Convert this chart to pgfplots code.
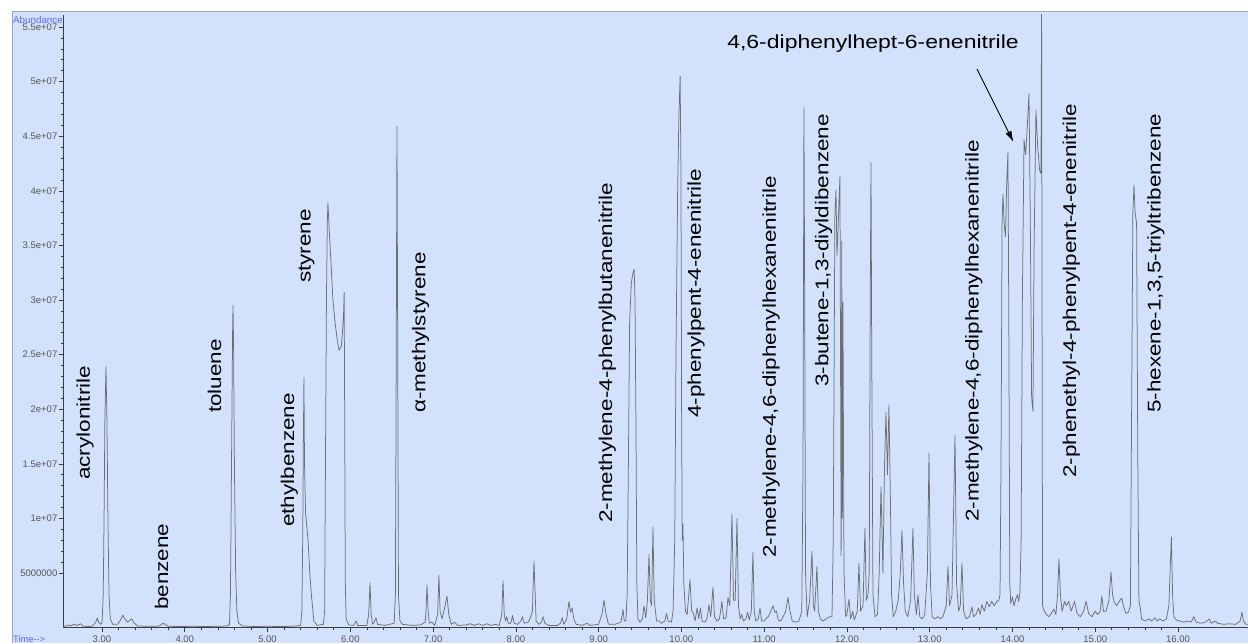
\documentclass[border=0pt]{standalone}
\usepackage{fontspec}
\setmainfont{Liberation Sans}
\usepackage{pgfplots}
\pgfplotsset{compat=1.18}
\usetikzlibrary{arrows.meta}
\definecolor{bgblue}{RGB}{210,226,252}
\definecolor{bordergray}{RGB}{165,165,165}
\definecolor{tracegray}{RGB}{110,110,116}
\definecolor{axisgray}{RGB}{60,60,60}
\definecolor{tickgray}{RGB}{85,85,85}
\definecolor{abblue}{RGB}{100,100,250}
\begin{document}
\begin{tikzpicture}[lbl/.style={rotate=90, anchor=west, inner sep=0pt, yscale=0.82, font=\fontsize{22.5}{24}\selectfont, text=black}]
\path[use as bounding box] (0pt,0pt) rectangle (1248pt,643pt);
\fill[white] (0pt,0pt) rectangle (1248pt,643pt);
\fill[bgblue] (12pt,0pt) rectangle (1248pt,631pt);
\draw[bordergray, line width=1pt] (12pt,0pt) -- (12pt,631pt) -- (1248pt,631pt);
\begin{axis}[
  at={(63pt,15.4pt)}, anchor=south west, scale only axis,
  width=1185pt, height=612.6pt,
  xmin=2.529, xmax=16.846, ymin=0, ymax=56.1,
  axis x line*=bottom, axis y line*=left,
  axis line style={axisgray, line width=0.8pt},
  xtick={3,4,5,6,7,8,9,10,11,12,13,14,15,16},
  xticklabels={3.00,4.00,5.00,6.00,7.00,8.00,9.00,10.00,11.00,12.00,13.00,14.00,15.00,16.00},
  minor x tick num=4,
  ytick={5,10,15,20,25,30,35,40,45,50,55},
  yticklabels={5000000,1e+07,1.5e+07,2e+07,2.5e+07,3e+07,3.5e+07,4e+07,4.5e+07,5e+07,5.5e+07},
  minor y tick num=4,
  tick align=outside, major tick length=4pt, minor tick length=2.5pt,
  tick style={axisgray, line width=0.6pt},
  every tick label/.append style={font=\fontsize{9.5}{10}\selectfont, text=tickgray},
  xticklabel shift=0.8pt,
  yticklabel style={inner sep=1.5pt},
  clip mode=individual,
  /pgf/number format/assume math mode=true,
]
\addplot[tracegray, line width=0.75pt, line join=round] coordinates {
(2.529,0.1)(2.56,0.12)(2.59,0.25)(2.62,0.15)(2.66,0.3)(2.70,0.2)(2.74,0.35)(2.77,0.15)(2.82,0.1)(2.88,0.12)
(2.925,0.5)(2.943,0.88)(2.96,0.5)(2.985,0.3)(3.00,0.4)(3.015,3)(3.025,10)(3.035,19)(3.048,23.9)(3.06,19)
(3.072,10)(3.085,3)(3.10,0.8)(3.13,0.3)(3.19,0.3)(3.225,0.7)(3.25,1.15)(3.275,0.8)(3.31,0.5)(3.335,0.65)
(3.359,0.8)(3.385,0.45)(3.43,0.15)(3.55,0.12)(3.68,0.12)(3.72,0.3)(3.74,0.42)(3.76,0.3)(3.80,0.12)(3.95,0.1)
(4.10,0.12)(4.25,0.1)(4.40,0.12)(4.52,0.15)(4.54,0.3)(4.552,3)(4.565,15)(4.578,27)(4.583,29.5)(4.59,26)
(4.60,15)(4.615,5)(4.63,1.5)(4.65,0.4)(4.70,0.15)(4.85,0.1)(5.00,0.12)(5.15,0.1)(5.30,0.12)(5.40,0.2)
(5.415,1.5)(5.425,8)(5.433,17)(5.44,22.9)(5.447,15)(5.46,10.5)(5.49,8)(5.51,5)(5.53,3)(5.56,0.6)
(5.60,0.2)(5.675,0.3)(5.69,1.5)(5.70,15)(5.712,30)(5.722,37)(5.73,38.9)(5.745,36.5)(5.77,33)(5.79,30)
(5.815,28)(5.84,26.5)(5.863,25.4)(5.89,25.7)(5.905,27)(5.912,27.9)(5.92,29)(5.926,30.7)(5.932,20)(5.94,4)
(5.95,0.8)(5.98,0.25)(6.04,0.2)(6.06,0.45)(6.075,0.6)(6.09,0.2)(6.20,0.2)(6.222,1.2)(6.238,4.1)(6.252,1.2)
(6.27,0.3)(6.29,0.5)(6.31,0.9)(6.33,0.3)(6.42,0.2)(6.53,0.4)(6.545,3)(6.555,25)(6.564,45.9)(6.572,28)
(6.582,3)(6.60,0.6)(6.63,0.3)(6.75,0.2)(6.85,0.25)(6.905,0.5)(6.915,1.5)(6.927,3.9)(6.94,1.5)(6.955,0.4)
(6.985,0.5)(7.02,0.2)(7.055,1.2)(7.071,4.8)(7.085,1.5)(7.11,0.8)(7.145,2)(7.168,2.9)(7.19,1.2)(7.22,0.3)
(7.26,0.5)(7.30,0.2)(7.40,0.25)(7.45,0.35)(7.50,0.2)(7.55,0.35)(7.60,0.2)(7.65,0.35)(7.70,0.2)(7.75,0.3)
(7.80,0.2)(7.83,1.2)(7.845,4.3)(7.86,1.2)(7.875,0.6)(7.89,1.0)(7.91,0.4)(7.94,0.4)(7.96,1.1)(7.98,0.4)
(8.02,0.3)(8.06,0.6)(8.08,1.0)(8.10,0.4)(8.15,0.5)(8.175,0.9)(8.20,1.5)(8.219,6.05)(8.232,3.5)(8.245,0.6)
(8.28,0.3)(8.31,0.5)(8.33,1.0)(8.35,0.4)(8.40,0.2)(8.50,0.2)(8.54,0.4)(8.56,0.9)(8.58,0.3)(8.615,0.8)
(8.642,2.4)(8.66,1.4)(8.68,1.8)(8.70,0.8)(8.73,0.3)(8.80,0.2)(8.86,0.4)(8.90,0.2)(9.00,0.3)(9.04,1.2)
(9.065,2.5)(9.09,1.2)(9.12,0.3)(9.20,0.3)(9.27,0.5)(9.295,1.65)(9.31,0.6)(9.33,0.6)(9.345,3)(9.36,15)
(9.375,28)(9.395,31.5)(9.415,32.5)(9.43,32.8)(9.44,30)(9.452,18)(9.462,4)(9.475,0.8)(9.50,0.5)(9.53,0.8)
(9.548,2.0)(9.57,0.9)(9.59,2.5)(9.609,6.7)(9.625,2.5)(9.64,2)(9.657,9.2)(9.672,2.5)(9.70,0.6)(9.73,0.6)
(9.76,0.4)(9.80,0.6)(9.82,1.3)(9.84,0.6)(9.88,0.5)(9.90,1.5)(9.92,8)(9.935,25)(9.955,40)(9.97,46.7)
(9.985,50.5)(9.995,42)(10.003,20)(10.01,8)(10.019,9.5)(10.03,4)(10.05,1.5)(10.07,1.2)(10.104,4.4)(10.125,1.5)
(10.145,1.3)(10.165,0.6)(10.19,1.8)(10.21,0.8)(10.23,1.8)(10.25,0.6)(10.285,0.5)(10.31,0.8)(10.334,2.1)(10.355,1.0)
(10.382,3.7)(10.40,1.0)(10.43,0.6)(10.46,0.8)(10.49,2.4)(10.51,0.8)(10.54,0.9)(10.563,2.75)(10.585,2.0)(10.611,10.4)
(10.63,2.5)(10.65,2.5)(10.672,10.0)(10.69,2.0)(10.71,0.8)(10.73,1.2)(10.75,0.6)(10.78,0.8)(10.80,1.4)(10.82,0.7)
(10.845,1.5)(10.865,6.9)(10.88,1.5)(10.90,0.6)(10.93,0.8)(10.95,1.8)(10.97,0.6)(11.00,0.6)(11.03,0.9)(11.05,1.0)
(11.08,1.5)(11.107,2.0)(11.13,1.4)(11.15,1.5)(11.17,0.7)(11.20,0.6)(11.23,1.0)(11.26,1.5)(11.288,2.75)(11.31,1.6)
(11.34,0.6)(11.38,0.5)(11.42,0.6)(11.455,1.5)(11.47,15)(11.481,47.6)(11.49,30)(11.50,5)(11.52,1.0)(11.55,2.5)
(11.578,7.0)(11.595,2.0)(11.61,1.5)(11.638,5.6)(11.655,1.5)(11.68,0.8)(11.71,0.6)(11.75,0.8)(11.79,1.0)(11.82,1.0)
(11.835,8)(11.855,38)(11.868,40.1)(11.88,34)(11.895,37)(11.916,41.3)(11.925,20)(11.93,6.6)(11.938,35.4)(11.945,10)
(11.952,29.8)(11.965,5)(11.985,1.0)(12.00,1.2)(12.025,2.6)(12.045,0.8)(12.07,1.5)(12.09,0.7)(12.125,1.5)(12.146,5.9)
(12.165,1.5)(12.195,2)(12.218,9.1)(12.235,2.5)(12.255,3)(12.27,5)(12.282,30)(12.291,42.6)(12.30,25)(12.315,3)
(12.34,1.0)(12.37,1.2)(12.39,5)(12.412,12.9)(12.435,5)(12.455,15)(12.472,19.7)(12.49,14)(12.508,20.4)(12.525,12)
(12.54,3)(12.56,1.0)(12.59,1.5)(12.62,2.5)(12.645,5)(12.665,8.9)(12.685,4)(12.705,1.5)(12.735,1.0)(12.77,2.5)
(12.798,9.1)(12.815,3)(12.84,1.2)(12.859,3.0)(12.88,1.0)(12.91,0.8)(12.94,1.2)(12.972,5)(12.992,16.0)(13.01,4)
(13.03,1.0)(13.06,0.8)(13.10,1.0)(13.13,0.8)(13.16,1.0)(13.20,2)(13.221,5.6)(13.24,2)(13.27,3)(13.306,17.6)
(13.325,4)(13.35,1.5)(13.37,2)(13.39,5.9)(13.41,1.5)(13.44,0.8)(13.48,1.0)(13.51,1.9)(13.53,1.0)(13.56,1.2)
(13.59,1.8)(13.61,1.2)(13.63,2.1)(13.66,1.5)(13.69,2.4)(13.72,1.9)(13.75,2.4)(13.78,2.0)(13.81,2.4)(13.835,2.5)
(13.85,3)(13.862,15)(13.875,37)(13.886,39.7)(13.90,37)(13.915,35.8)(13.932,41)(13.946,43.5)(13.958,25)(13.968,4)
(13.98,2.2)(14.00,2.8)(14.02,2.0)(14.04,2.6)(14.06,3.0)(14.075,2.4)(14.09,3.2)(14.105,8)(14.12,30)(14.14,44.7)
(14.16,43.3)(14.18,46)(14.20,48.9)(14.215,38)(14.232,21)(14.248,19.8)(14.262,35)(14.284,47.4)(14.305,44)(14.33,41.8)
(14.345,41.6)(14.352,57)(14.364,2.0)(14.38,1.6)(14.41,1.2)(14.44,1.0)(14.47,1.3)(14.50,1.7)(14.525,1.2)(14.545,3)
(14.562,6.3)(14.58,3)(14.60,1.5)(14.63,2.4)(14.65,2.0)(14.68,2.4)(14.71,1.5)(14.75,2.4)(14.78,1.3)(14.82,1.0)
(14.86,1.5)(14.89,2.4)(14.92,1.3)(14.96,1.0)(15.00,1.5)(15.03,1.2)(15.06,1.5)(15.08,2.9)(15.10,1.5)(15.13,1.5)
(15.165,2.5)(15.19,5.1)(15.21,3)(15.23,2.3)(15.26,2.0)(15.29,2.4)(15.32,2.7)(15.34,2.0)(15.37,1.3)(15.40,1.4)
(15.425,2)(15.44,20)(15.455,38)(15.468,40.5)(15.482,38)(15.50,37)(15.515,15)(15.528,2.5)(15.545,1.8)(15.56,0.8)
(15.60,0.6)(15.65,0.8)(15.68,0.6)(15.72,0.9)(15.75,0.6)(15.78,0.8)(15.82,0.6)(15.86,0.8)(15.89,2)(15.92,8.3)
(15.935,3)(15.95,1.0)(15.98,0.7)(16.02,0.6)(16.07,0.5)(16.12,0.6)(16.16,0.5)(16.19,1.0)(16.22,0.5)(16.28,0.4)
(16.33,0.5)(16.38,0.8)(16.40,0.4)(16.45,0.6)(16.48,0.4)(16.55,0.3)(16.62,0.35)(16.70,0.3)(16.75,0.6)(16.773,1.4)
(16.79,0.6)(16.82,0.3)(16.846,0.3)
};
\node[lbl] at (axis cs:2.795,13.52) {acrylonitrile};
\node[lbl] at (axis cs:3.719,1.61) {benzene};
\node[lbl] at (axis cs:4.359,19.65) {toluene};
\node[lbl] at (axis cs:5.265,9.21) {ethylbenzene};
\node[lbl] at (axis cs:5.471,31.56) {styrene};
\node[lbl] at (axis cs:6.848,19.65) {α-methylstyrene};
\node[lbl] at (axis cs:9.107,9.58) {2-methylene-4-phenylbutanenitrile};
\node[lbl] at (axis cs:10.177,19.19) {4-phenylpent-4-enenitrile};
\node[lbl] at (axis cs:11.083,6.37) {2-methylene-4,6-diphenylhexanenitrile};
\node[lbl] at (axis cs:11.717,22.03) {3-butene-1,3-diyldibenzene};
\node[lbl] at (axis cs:13.535,9.67) {2-methylene-4,6-diphenylhexanenitrile};
\node[lbl] at (axis cs:14.713,13.7) {2-phenethyl-4-phenylpent-4-enenitrile};
\node[lbl] at (axis cs:15.734,19.65) {5-hexene-1,3,5-triyltribenzene};
\node[anchor=east, inner sep=0pt, yscale=0.82, font=\fontsize{23}{24}\selectfont] at (axis cs:14.079,53.49) {4,6-diphenylhept-6-enenitrile};
\draw[black, line width=0.9pt, -{Latex[length=11pt,width=6.5pt]}] (axis cs:13.571,51.15) -- (axis cs:14.012,44.47);
\end{axis}
\node[anchor=west, inner sep=0pt, text=abblue, font=\fontsize{9.8}{10}\selectfont] at (13pt,623pt) {Abundance};
\node[anchor=west, inner sep=0pt, text=abblue, font=\fontsize{9.3}{10}\selectfont] at (13pt,4pt) {Time\mbox{-}\mbox{-}\mbox{>}};
\end{tikzpicture}
\end{document}
